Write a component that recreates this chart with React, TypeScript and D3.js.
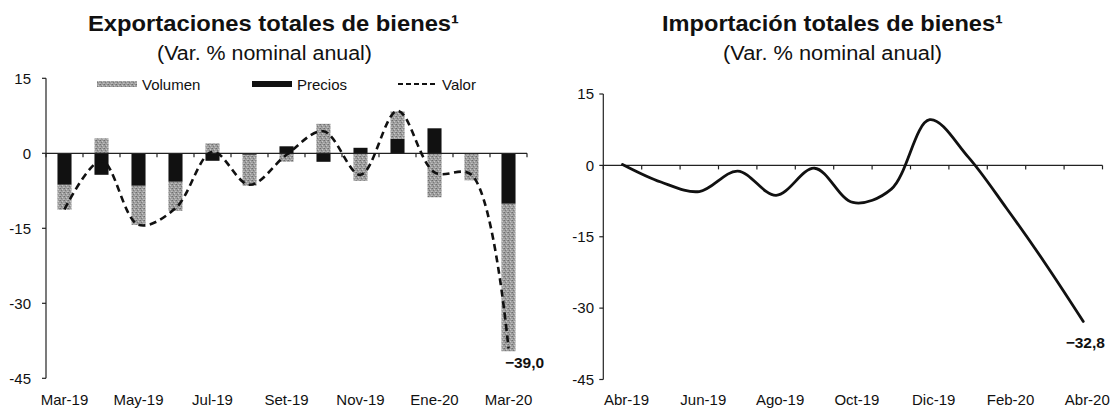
import React from "react";
import * as d3 from "d3";

// ---------- Data ----------
const mesesExp = ["Mar-19","Abr-19","May-19","Jun-19","Jul-19","Ago-19","Set-19","Oct-19","Nov-19","Dic-19","Ene-20","Feb-20","Mar-20"];
const volumen = [-5.0, 3.0, -7.8, -5.8, 2.0, -6.2, -1.7, 5.9, -5.5, 5.5, -8.8, -5.4, -29.5];
const precios = [-6.3, -4.3, -6.5, -5.7, -1.5, -0.3, 1.4, -1.7, 1.1, 2.9, 5.0, 0.0, -10.1];
const valor = [-11.2, -1.5, -14.3, -11.0, 0.3, -6.3, -0.3, 4.4, -4.3, 8.5, -3.8, -4.3, -39.0];

const mesesImp = ["Abr-19","May-19","Jun-19","Jul-19","Ago-19","Sep-19","Oct-19","Nov-19","Dic-19","Ene-20","Feb-20","Mar-20","Abr-20"];
const importacion = [0.2, -3.5, -5.5, -1.2, -6.3, -0.6, -7.8, -5.0, 9.6, 1.8, -9.0, -20.5, -32.8];

const yTicks = [15, 0, -15, -30, -45];
const yDomain: [number, number] = [-45, 15];

const FONT = "'Liberation Sans', Arial, Helvetica, sans-serif";

function fmt(v: number) {
  return d3.format(".1f")(v).replace(".", ",");
}

export default function App() {
  // ---------- Left chart scales ----------
  const xL = d3.scaleBand<string>().domain(mesesExp).range([46, 527]).paddingInner(0.62).paddingOuter(0.31);
  const yL = d3.scaleLinear().domain(yDomain).range([378.3, 78.3]);
  const stepL = (xL.range()[1] - xL.range()[0]) / mesesExp.length;
  const cL = (m: string) => (xL(m) as number) + xL.bandwidth() / 2;

  const rows = mesesExp.map((m, i) => ({ mes: m, precios: precios[i], volumen: volumen[i] }));
  const stacked = d3.stack<any>().keys(["precios", "volumen"]).offset(d3.stackOffsetDiverging)(rows);

  const valorLine = d3.line<number>()
    .x((_, i) => cL(mesesExp[i]))
    .y((v) => yL(v))
    .curve(d3.curveCatmullRom.alpha(0.5));

  // ---------- Right chart scales ----------
  const xR = d3.scaleBand<string>().domain(mesesImp).range([603.3, 1102.5]).paddingInner(0.5).paddingOuter(0.25);
  const yR = d3.scaleLinear().domain(yDomain).range([379.5, 94]);
  const stepR = (xR.range()[1] - xR.range()[0]) / mesesImp.length;
  const cR = (m: string) => (xR(m) as number) + xR.bandwidth() / 2;

  const impLine = d3.line<number>()
    .x((_, i) => cR(mesesImp[i]))
    .y((v) => yR(v))
    .curve(d3.curveCatmullRom.alpha(0.5));

  const axisColor = "#222";

  const renderYAxis = (x0: number, y: d3.ScaleLinear<number, number>, labelX: number) => (
    <g>
      <line x1={x0} x2={x0} y1={y(15)} y2={y(-45)} stroke={axisColor} strokeWidth={1.2} />
      {yTicks.map((t) => (
        <g key={t}>
          <line x1={x0 - 4} x2={x0} y1={y(t)} y2={y(t)} stroke={axisColor} strokeWidth={1.2} />
          <text x={labelX} y={y(t)} dy="0.35em" textAnchor="end" fontSize={15} fontFamily={FONT} fill="#111">
            {t}
          </text>
        </g>
      ))}
    </g>
  );

  const renderXAxis = (x0: number, step: number, n: number, y0: number) => (
    <g>
      <line x1={x0} x2={x0 + step * n} y1={y0} y2={y0} stroke={axisColor} strokeWidth={1.2} />
      {d3.range(n + 1).map((i) => (
        <line key={i} x1={x0 + i * step} x2={x0 + i * step} y1={y0} y2={y0 + 4} stroke={axisColor} strokeWidth={1.2} />
      ))}
    </g>
  );

  return (
    <svg width={1110} height={413} style={{ position: "absolute", left: 0, top: 0, background: "#fff" }}>
      <defs>
        <pattern id="grain" width={4} height={4} patternUnits="userSpaceOnUse">
          <rect width={4} height={4} fill="#9e9e9e" />
          <rect x={0} y={0} width={1} height={1} fill="#6e6e6e" />
          <rect x={2} y={1} width={1} height={1} fill="#c8c8c8" />
          <rect x={1} y={2} width={1} height={1} fill="#7a7a7a" />
          <rect x={3} y={3} width={1} height={1} fill="#bdbdbd" />
          <rect x={3} y={0} width={1} height={1} fill="#888" />
          <rect x={0} y={3} width={1} height={1} fill="#b0b0b0" />
        </pattern>
      </defs>

      {/* ---------- Titles ---------- */}
      <text x={88} y={31} fontSize={22.5} fontWeight="bold" fontFamily={FONT} fill="#111" textLength={371} lengthAdjust="spacingAndGlyphs">
        Exportaciones totales de bienes¹
      </text>
      <text x={157} y={60} fontSize={19.5} fontFamily={FONT} fill="#111" textLength={215} lengthAdjust="spacingAndGlyphs">
        (Var. % nominal anual)
      </text>
      <text x={662} y={31} fontSize={22.5} fontWeight="bold" fontFamily={FONT} fill="#111" textLength={341} lengthAdjust="spacingAndGlyphs">
        Importación totales de bienes¹
      </text>
      <text x={723} y={60} fontSize={19.5} fontFamily={FONT} fill="#111" textLength={219} lengthAdjust="spacingAndGlyphs">
        (Var. % nominal anual)
      </text>

      {/* ---------- Left chart ---------- */}
      {renderYAxis(46, yL, 31)}

      {/* Legend */}
      <g fontFamily={FONT} fontSize={15} fill="#111">
        <rect x={97} y={81} width={40} height={6} fill="url(#grain)" />
        <text x={142} y={89.5}>Volumen</text>
        <rect x={252} y={81} width={40} height={6} fill="#111" />
        <text x={297} y={89.5}>Precios</text>
        <line x1={398} x2={438} y1={84} y2={84} stroke="#111" strokeWidth={2} strokeDasharray="5,3" />
        <text x={442} y={89.5}>Valor</text>
      </g>

      {/* Bars */}
      {stacked.map((layer) => (
        <g key={layer.key} fill={layer.key === "precios" ? "#111" : "url(#grain)"}>
          {layer.map((d: any, i: number) => {
            const y0 = yL(d[0]);
            const y1 = yL(d[1]);
            return (
              <rect
                key={i}
                x={xL(mesesExp[i]) as number}
                y={Math.min(y0, y1)}
                width={xL.bandwidth()}
                height={Math.abs(y1 - y0)}
              />
            );
          })}
        </g>
      ))}

      {renderXAxis(xL.range()[0], stepL, mesesExp.length, yL(0))}

      <path d={valorLine(valor) as string} fill="none" stroke="#111" strokeWidth={2.6} strokeDasharray="7,4.5" />

      {mesesExp.map((m, i) =>
        i % 2 === 0 ? (
          <text key={m} x={cL(m)} y={405} textAnchor="middle" fontSize={15} fontFamily={FONT} fill="#111">
            {m}
          </text>
        ) : null
      )}
      <text x={cL(mesesExp[12]) + 16} y={yL(valor[12]) + 20} textAnchor="middle" fontSize={15.5} fontWeight="bold" fontFamily={FONT} fill="#111">
        {fmt(valor[12])}
      </text>

      {/* ---------- Right chart ---------- */}
      {renderYAxis(603.3, yR, 594)}
      {renderXAxis(xR.range()[0], stepR, mesesImp.length, yR(0))}

      <path d={impLine(importacion) as string} fill="none" stroke="#111" strokeWidth={2.8} strokeLinejoin="round" strokeLinecap="round" />

      {mesesImp.map((m, i) =>
        i % 2 === 0 ? (
          <text key={m} x={cR(m) + 4} y={405} textAnchor="middle" fontSize={15} fontFamily={FONT} fill="#111">
            {m}
          </text>
        ) : null
      )}
      <text x={cR(mesesImp[12]) + 2} y={yR(importacion[12]) + 27} textAnchor="middle" fontSize={15.5} fontWeight="bold" fontFamily={FONT} fill="#111">
        {fmt(importacion[12])}
      </text>
    </svg>
  );
}
